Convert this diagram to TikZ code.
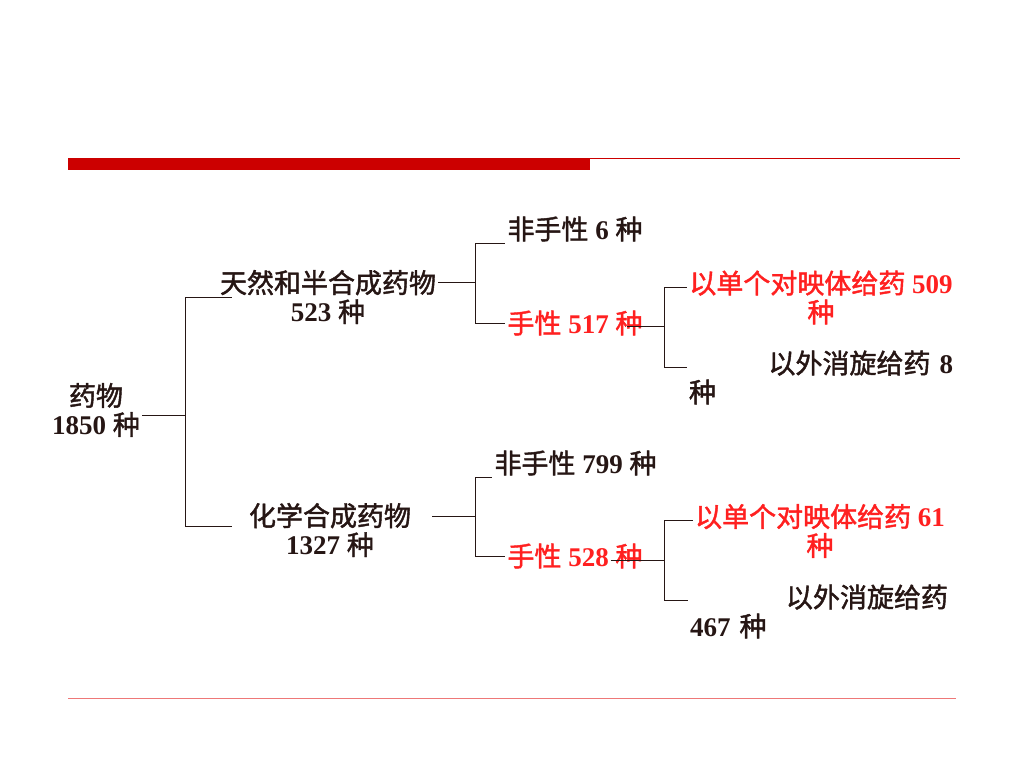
\documentclass[tikz,border=0pt]{standalone}
\usepackage{fontspec}
\setmainfont{Liberation Serif}
\newfontfamily\cjk{Noto Sans CJK SC}[FakeBold=1.6]
\usetikzlibrary{positioning}
\definecolor{ink}{RGB}{38,22,20}
\definecolor{hot}{RGB}{255,32,32}
\definecolor{bar}{RGB}{204,0,0}
\definecolor{rule}{RGB}{238,120,120}
\tikzstyle{every node}=[font=\fontsize{27}{29}\selectfont, inner sep=2pt]
\tikzstyle{lbl}=[text=ink, align=center]
\tikzstyle{redlbl}=[text=hot, align=center]
\tikzstyle{link}=[draw=ink, line width=1pt]
\newcommand{\zh}[1]{{\cjk #1}}
\newcommand{\nm}[1]{\textbf{#1}}

\begin{document}
\begin{tikzpicture}[x=1pt,y=-1pt]
            \useasboundingbox (0,0) rectangle (1024,768);
            % title bar and footer rule
            \fill[bar] (68,158) rectangle (590,170);
            \draw[bar, line width=1.5pt] (590,158.5) -- (960,158.5);
            \draw[rule, line width=1pt] (68,698) -- (956,698);

            \node[lbl] (drug) at (96,410) {\zh{药物}\\\nm{1850} \zh{种}};
            \node[lbl] (nat) at (328,297) {\zh{天然和半合成药物}\\\nm{523} \zh{种}};
            \node[lbl] (syn) at (330,530) {\zh{化学合成药物}\\\nm{1327} \zh{种}};

            \node[lbl] (achA) at (575,229) {\zh{非手性} \nm{6} \zh{种}};
            \node[redlbl] (chA) at (575,323) {\zh{手性} \nm{517} \zh{种}};
            \node[redlbl] (oneA) at (821,297.5) {\zh{以单个对映体给药} \nm{509}\\\zh{种}};
            \node[lbl, align=left, text width=264pt] (racA) at (821,377.5) {\null\hfill\zh{以外消旋给药} \nm{8}\\\zh{种}};

            \node[lbl] (achB) at (575.5,463) {\zh{非手性} \nm{799} \zh{种}};
            \node[redlbl] (chB) at (575,556) {\zh{手性} \nm{528} \zh{种}};
            \node[redlbl] (oneB) at (820,531) {\zh{以单个对映体给药} \nm{61}\\\zh{种}};
            \node[lbl, align=left, text width=258pt] (racB) at (819,611.5) {\null\hfill\zh{以外消旋给药}\\\nm{467} \zh{种}};

            \coordinate (jr) at (185,415);
            \coordinate (jA) at (475,282);
            \coordinate (jB) at (475,516);
            \coordinate (kA) at (664,326);
            \coordinate (kB) at (664,560);

            \draw[link] (drug.east |- jr) -- (jr);
            \draw[link] (jr) |- ([xshift=14pt]nat.west);
            \draw[link] (jr) |- ([xshift=-15pt,yshift=4pt]syn.west);

            \draw[link] (nat.east |- jA) -- (jA);
            \draw[link] (jA) |- (achA.south west);
            \draw[link] (jA) |- (chA.west);
            \draw[link, shorten <=-18pt] (chA.east |- kA) -- (kA);
            \draw[link] (kA) |- ([yshift=10pt]oneA.west);
            \draw[link] (kA) |- ([yshift=10pt]racA.west);

            \draw[link, shorten <=19pt] (syn.east |- jB) -- (jB);
            \draw[link] (jB) |- (achB.south west);
            \draw[link] (jB) |- (chB.west);
            \draw[link, shorten <=-34pt] (chB.east |- kB) -- (kB);
            \draw[link] (kB) |- ([yshift=11pt]oneB.west);
            \draw[link] (kB) |- ([yshift=11.5pt]racB.west);
        \end{tikzpicture}
\end{document}
